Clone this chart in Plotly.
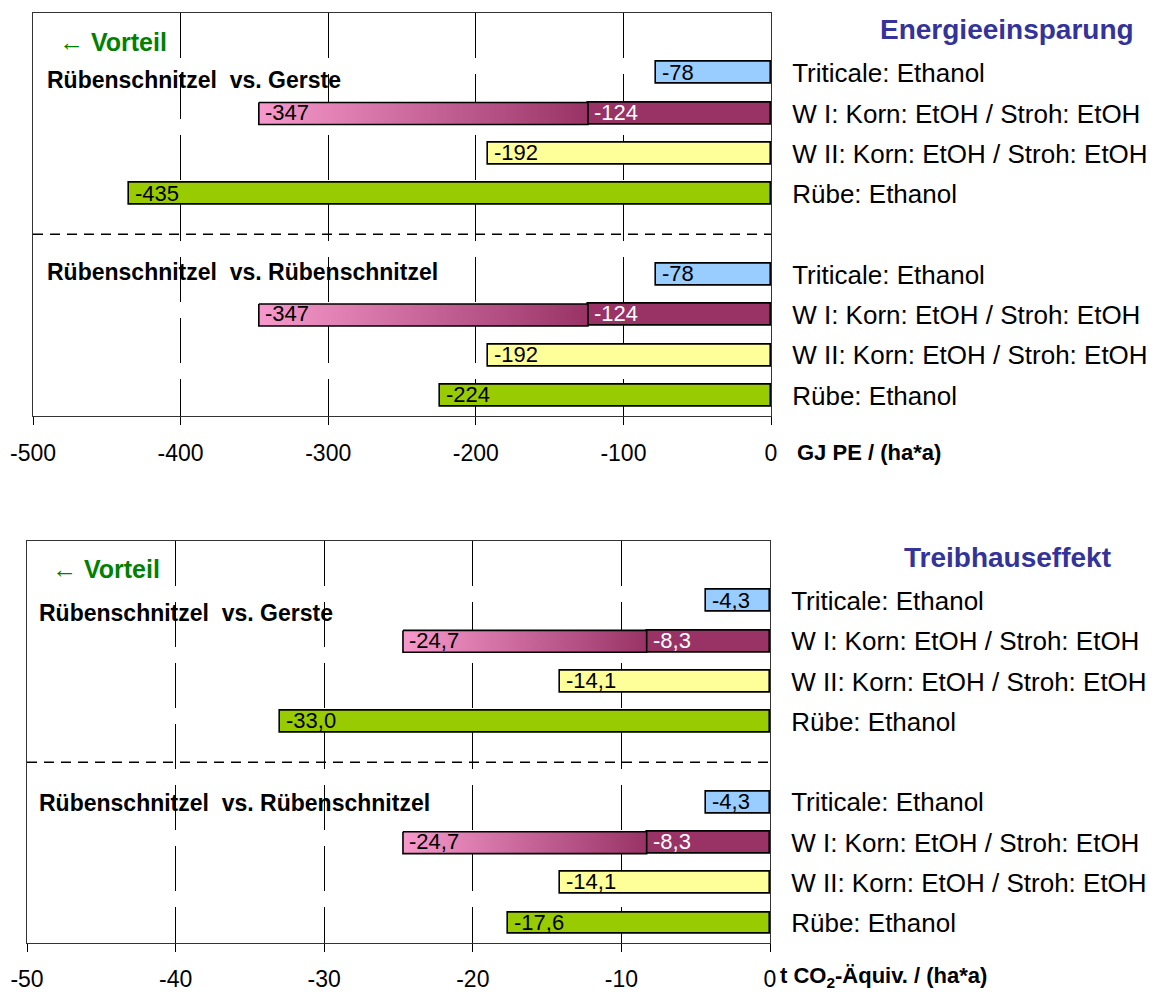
import plotly.graph_objects as go

# Daten
kategorien = ["Triticale: Ethanol", "W I: Korn: EtOH / Stroh: EtOH",
              "W II: Korn: EtOH / Stroh: EtOH", "Rübe: Ethanol"]
gruppen = ["Rübenschnitzel  vs. Gerste", "Rübenschnitzel  vs. Rübenschnitzel"]

energie_gerste = [-78, -124, -192, -435]
energie_rueben = [-78, -124, -192, -224]
energie_w1_gesamt = [-347, -347]
energie_ticks = [-500, -400, -300, -200, -100, 0]

thg_gerste = [-4.3, -8.3, -14.1, -33.0]
thg_rueben = [-4.3, -8.3, -14.1, -17.6]
thg_w1_gesamt = [-24.7, -24.7]
thg_ticks = [-50, -40, -30, -20, -10, 0]

farben = ["#99CCFF", "#993366", "#FFFF99", "#99CC00"]
textfarben = ["black", "white", "black", "black"]
rosa = "#F799CC"

# Seite hat 8px Rand im Browser
RAND = 8
W, H = 1159 - RAND, 992 - RAND
FONT = "Arial, Liberation Sans, sans-serif"
BREITE = 0.545


def px(x):
    return (x - RAND) / W


def py(y):
    return 1 - (y - RAND) / H


panels = [
    dict(werte=[energie_gerste, energie_rueben], gesamt=energie_w1_gesamt,
         fmt=lambda v: f"{v:.0f}", ticks=energie_ticks, standoff=9,
         xa="x", ya="y", ax="xaxis", ay="yaxis",
         xl=33, xr=771, yt=12.7, yb=415.7,
         titel="Energieeinsparung", titel_x=1136, titel_y=30,
         vorteil=(57, 42), grp_x=45, grp_y=[80, 272],
         einheit="GJ PE / (ha*a)", einheit_x=795, einheit_y=453),
    dict(werte=[thg_gerste, thg_rueben], gesamt=thg_w1_gesamt,
         fmt=lambda v: f"{v:.1f}".replace(".", ","), ticks=thg_ticks, standoff=7,
         xa="x2", ya="y2", ax="xaxis2", ay="yaxis2",
         xl=27, xr=770, yt=540.7, yb=943.3,
         titel="Treibhauseffekt", titel_x=1113, titel_y=557,
         vorteil=(50, 569), grp_x=37, grp_y=[613, 803],
         einheit="t CO<sub>2</sub>-Äquiv. / (ha*a)", einheit_x=778, einheit_y=977),
]

fig = go.Figure()
annotations = []
shapes = []


def text_paper(x, y, text, size, color, xanchor="left"):
    return dict(x=px(x), y=py(y), xref="paper", yref="paper", text=text,
                showarrow=False, xanchor=xanchor, yanchor="middle",
                font=dict(family=FONT, size=size, color=color))


for p in panels:
    positionen = []
    for g, werte in enumerate(p["werte"]):
        pos = [1 + g * 5 + i for i in range(len(kategorien))]
        positionen += pos
        fig.add_trace(go.Bar(
            x=werte, y=pos, orientation="h", width=BREITE,
            marker=dict(color=farben, line=dict(color="black", width=1.6)),
            xaxis=p["xa"], yaxis=p["ya"], showlegend=False, hoverinfo="skip"))
        # Stroh-Anteil W I mit Farbverlauf
        x0, x1 = p["gesamt"][g], werte[1]
        y0, y1 = pos[1] - BREITE / 2, pos[1] + BREITE / 2
        fig.add_trace(go.Scatter(
            x=[x0, x1, x1, x0, x0], y=[y0, y0, y1, y1, y0],
            mode="lines", fill="toself",
            fillgradient=dict(type="horizontal", colorscale=[[0, rosa], [1, farben[1]]]),
            line=dict(color="black", width=1.6),
            xaxis=p["xa"], yaxis=p["ya"], showlegend=False, hoverinfo="skip"))
        annotations.append(dict(
            x=x0, y=pos[1], xref=p["xa"], yref=p["ya"], text=p["fmt"](x0),
            showarrow=False, xanchor="left", yanchor="middle", xshift=4, yshift=1,
            font=dict(family=FONT, size=22, color="black")))
        for i, v in enumerate(werte):
            annotations.append(dict(
                x=v, y=pos[i], xref=p["xa"], yref=p["ya"], text=p["fmt"](v),
                showarrow=False, xanchor="left", yanchor="middle", xshift=4, yshift=1,
                font=dict(family=FONT, size=22, color=textfarben[i])))
        annotations.append(text_paper(p["grp_x"], p["grp_y"][g],
                                      "<b>" + gruppen[g] + "</b>", 23, "black"))

    shapes.append(dict(
        type="line", xref=p["xa"] + " domain", yref=p["ya"], x0=0, x1=1, y0=5, y1=5,
        line=dict(color="black", width=1.5, dash="10px,7px")))

    fig.update_layout({
        p["ax"]: dict(
            domain=[px(p["xl"]), px(p["xr"])], anchor=p["ya"],
            range=[p["ticks"][0], p["ticks"][-1]],
            tickvals=p["ticks"], ticktext=[str(t) for t in p["ticks"]],
            ticks="outside", ticklen=8, tickcolor="black", automargin=False,
            showline=True, mirror=True, linecolor="#333333", linewidth=1,
            showgrid=True, gridcolor="black", gridwidth=1, griddash="45px,16px",
            zeroline=False, ticklabelstandoff=p["standoff"],
            tickfont=dict(family=FONT, size=23, color="black")),
        p["ay"]: dict(
            domain=[py(p["yb"]), py(p["yt"])], anchor=p["xa"], range=[9.5, -0.5],
            side="right", tickvals=positionen, ticktext=kategorien * 2,
            ticks="", showgrid=False, zeroline=False, ticklabelstandoff=15,
            showline=True, mirror=True, linecolor="#333333", linewidth=1,
            automargin=False,
            tickfont=dict(family=FONT, size=26, color="black")),
    })

    annotations.append(text_paper(p["titel_x"], p["titel_y"], "<b>" + p["titel"] + "</b>",
                                  28, "#333399", xanchor="right"))
    annotations.append(text_paper(p["vorteil"][0], p["vorteil"][1], "← <b>Vorteil</b>",
                                  25, "#008000"))
    annotations.append(text_paper(p["einheit_x"], p["einheit_y"], "<b>" + p["einheit"] + "</b>",
                                  22, "black"))

fig.update_layout(
    width=W, height=H,
    margin=dict(l=0, r=0, t=0, b=0, autoexpand=False),
    paper_bgcolor="white", plot_bgcolor="white",
    barmode="overlay", bargap=0,
    annotations=annotations, shapes=shapes,
    font=dict(family=FONT),
)

fig.write_html("out.html")
